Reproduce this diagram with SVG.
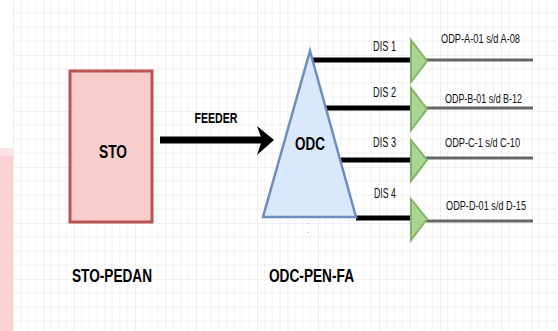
<svg xmlns="http://www.w3.org/2000/svg" width="558" height="331" viewBox="0 0 558 331">
<style>
.b{font-family:"Liberation Sans",Arial,sans-serif;font-weight:bold;fill:#000}
.n{font-family:"Liberation Sans",Arial,sans-serif;fill:#111}
.dis{stroke:#000;stroke-width:5}
.out{stroke:#666;stroke-width:3}
.tri{fill:#acd493;stroke:#82b366;stroke-width:2}
</style>
<defs>
<pattern id="grid" patternUnits="userSpaceOnUse" x="13" y="-1" width="30.5" height="56">
<path d="M7.6 0V56M15.25 0V56M22.9 0V56M0 14H30.5M0 28H30.5M0 42H30.5" stroke="#f1f1f1" stroke-width="1" fill="none"/>
<path d="M0 0V56M0 0H30.5" stroke="#e3e3e3" stroke-width="1.2" fill="none"/>
</pattern>
</defs>
<rect width="558" height="331" fill="#fff"/>
<rect x="13" y="0" width="545" height="331" fill="url(#grid)"/>
<rect x="0" y="148" width="13" height="10" fill="#fde3e5"/>
<rect x="0" y="156" width="13" height="175" fill="#fbd3d7"/>

<g id="connectors">
<line x1="160" y1="140" x2="262" y2="140" stroke="#000" stroke-width="7"/>
<polygon points="257,126 274,140 257,155 262,140" fill="#000"/>
<line class="dis" x1="313" y1="60" x2="411" y2="60"/>
<line class="dis" x1="326" y1="108" x2="411" y2="108"/>
<line class="dis" x1="341" y1="160" x2="411" y2="160"/>
<line class="dis" x1="356" y1="218" x2="411" y2="218"/>
<line class="out" x1="426" y1="60" x2="533" y2="60"/>
<line class="out" x1="426" y1="108" x2="533" y2="108"/>
<line class="out" x1="426" y1="158" x2="533" y2="158"/>
<line class="out" x1="426" y1="221" x2="533" y2="221"/>
<line x1="308" y1="214" x2="308" y2="238" stroke="#999" stroke-width="1" stroke-dasharray="1,8"/>
</g>

<g id="feeder-label">
<text class="b" x="216" y="123" font-size="14" text-anchor="middle" textLength="43" lengthAdjust="spacingAndGlyphs">FEEDER</text>
</g>

<g id="sto">
<rect x="70" y="71" width="82" height="151" fill="#f8cecc" stroke="#b85450" stroke-width="3"/>
<text class="b" x="113" y="158" font-size="19" text-anchor="middle" textLength="28" lengthAdjust="spacingAndGlyphs">STO</text>
</g>
<g id="sto-pedan">
<text class="b" x="112" y="282" font-size="19" text-anchor="middle" textLength="80" lengthAdjust="spacingAndGlyphs">STO-PEDAN</text>
</g>

<g id="odc">
<polygon points="310,51 356,217 263,217" fill="#dae8fc" stroke="#6c8ebf" stroke-width="2.5" stroke-linejoin="miter"/>
<text class="b" x="310" y="150" font-size="19" text-anchor="middle" textLength="30" lengthAdjust="spacingAndGlyphs">ODC</text>
</g>
<g id="odc-pen-fa">
<text class="b" x="311.5" y="282" font-size="19" text-anchor="middle" textLength="85" lengthAdjust="spacingAndGlyphs">ODC-PEN-FA</text>
</g>

<g id="dis1">
<text class="n" x="384.5" y="51" font-size="14" text-anchor="middle" textLength="23" lengthAdjust="spacingAndGlyphs">DIS 1</text>
<polygon class="tri" points="411,40 427,61 411,82"/>
</g>
<g id="dis2">
<text class="n" x="384.5" y="97" font-size="14" text-anchor="middle" textLength="23" lengthAdjust="spacingAndGlyphs">DIS 2</text>
<polygon class="tri" points="411,88 427,109 411,130"/>
</g>
<g id="dis3">
<text class="n" x="384.5" y="147" font-size="14" text-anchor="middle" textLength="23" lengthAdjust="spacingAndGlyphs">DIS 3</text>
<polygon class="tri" points="411,140 427,160 411,181"/>
</g>
<g id="dis4">
<text class="n" x="385" y="198" font-size="14" text-anchor="middle" textLength="22" lengthAdjust="spacingAndGlyphs">DIS 4</text>
<polygon class="tri" points="411,199 427,219 411,240"/>
</g>

<g id="odp-a">
<text class="n" x="480.5" y="43" font-size="13" text-anchor="middle" textLength="79" lengthAdjust="spacingAndGlyphs">ODP-A-01 s/d A-08</text>
</g>
<g id="odp-b">
<text class="n" x="483.5" y="103" font-size="13" text-anchor="middle" textLength="77" lengthAdjust="spacingAndGlyphs">ODP-B-01 s/d B-12</text>
</g>
<g id="odp-c">
<text class="n" x="482.5" y="147" font-size="13" text-anchor="middle" textLength="75" lengthAdjust="spacingAndGlyphs">ODP-C-1 s/d C-10</text>
</g>
<g id="odp-d">
<text class="n" x="486" y="210" font-size="13" text-anchor="middle" textLength="80" lengthAdjust="spacingAndGlyphs">ODP-D-01 s/d D-15</text>
</g>
</svg>
